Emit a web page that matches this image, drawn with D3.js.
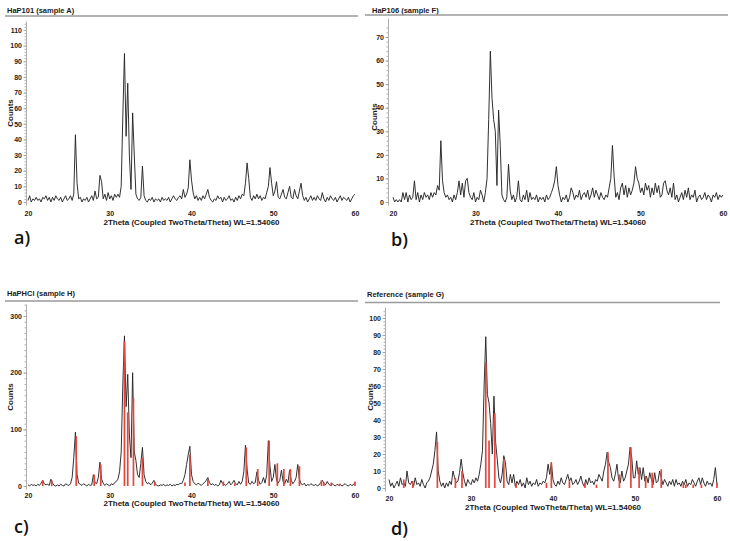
<!DOCTYPE html>
<html lang="en">
<head>
<meta charset="utf-8">
<title>XRD patterns of HaP samples</title>
<style>
  body { margin: 0; background: #fff; }
  svg { display: block; font-family: "Liberation Sans", Arial, sans-serif; }
  .title { font-size: 7.5px; font-weight: bold; fill: #1a1a1a; }
  .rule { stroke: #9a9a9a; stroke-width: 1.4; }
  .y-axis path, .y-axis line { stroke: #9a9a9a; stroke-width: 0.8; }
  .y-axis text, .x-axis text { font-size: 7px; font-weight: bold; fill: #222; font-family: "Liberation Sans", Arial, sans-serif; }
  .axis-title { font-size: 8px; font-weight: bold; fill: #1a1a1a; }
  .tag { font-family: "Open Sans", "Noto Sans", sans-serif; font-size: 18px; font-weight: 600; fill: #111; }
  .pattern { fill: none; stroke: #262626; stroke-width: 0.95; stroke-linejoin: round; }
  .stick { stroke: #e2463d; stroke-width: 1.7; }
</style>
</head>
<body>
<svg id="chart" width="730" height="541"></svg>
<script src="https://d3js.org/d3.v7.min.js"></script>
<script>
// 2theta grid of the measured patterns (degrees)
const twoThetaStart = 20;
const twoThetaStep = 0.2;
const xTicks = [20, 30, 40, 50, 60];

// measured counts, one value per 0.2 deg from 20.0 to 60.0
const countsA = [
  1,4,0,2,1,  3,1,2,0,3,  2,4,1,3,0,  3,1,4,2,1,  3,0,2,4,1,
  2,4,1,5,43, 12,2,3,0,2, 1,3,0,2,4,  1,7,2,3,17, 13,2,5,1,6,
  2,4,1,5,3,  5,3,10,55,95, 42,76,30,8,57, 30,5,2,1,3, 23,4,1,0,2,
  1,3,0,2,1,  2,0,3,1,2,  1,3,0,2,4,  2,1,3,4,2,  8,3,5,9,27,
  14,6,2,4,1, 3,1,4,2,5,  8,3,1,0,2,  1,4,2,3,0,  3,1,2,4,1,
  2,0,3,1,4,  2,5,4,12,25, 15,3,1,4,2, 5,2,4,1,3, 2,6,10,22,12,
  4,7,13,3,2, 5,8,3,2,6,  10,3,2,8,4, 2,7,12,4,1, 3,0,2,4,1,
  3,1,4,2,1,  6,2,0,3,1,  4,2,1,3,0,  2,4,1,3,2,  1,3,0,2,4,
  5
];
const countsF = [
  2,0,1,0,1,  0,4,1,4,0,  3,1,2,9,1,  4,0,3,1,4,  2,3,1,4,2,
  4,3,7,5,26, 9,4,2,3,1,  2,0,3,1,4,  9,3,8,2,9,  10,4,2,1,4,
  0,2,1,5,3,  0,4,10,35,64, 44,35,30,7,39, 24,3,1,0,2, 16,5,1,3,0,
  2,9,1,0,3,  1,5,0,4,1,  2,1,3,0,2,  1,2,0,3,1,  2,4,6,9,15,
  7,3,0,2,1,  3,0,2,6,4,  1,3,2,5,1,  3,4,2,5,1,  3,6,2,5,3,
  1,4,2,1,3,  2,6,10,24,11, 2,4,1,6,8, 3,7,2,6,3, 5,8,15,10,8,
  4,6,3,8,5,  7,2,6,3,8,  4,7,2,3,8,  9,5,3,6,2,  8,1,3,0,2,
  4,1,5,2,6,  1,3,2,5,0,  2,3,1,2,4,  1,3,2,0,3,  2,4,1,3,2,
  3
];
const countsH = [
  2,0,3,1,2,  0,3,1,5,10, 4,2,3,1,12, 5,1,0,2,0,  3,1,0,4,2,
  1,4,15,50,95, 20,5,3,1,4, 2,0,3,1,2, 20,6,4,15,42, 12,5,1,4,2,
  0,4,2,6,8,  12,25,60,180,265, 140,197,90,50,200, 60,45,20,15,40, 68,20,8,4,6,
  2,5,10,3,1, 0,2,1,3,0,  2,1,3,0,2,  1,3,2,5,4,  10,20,38,55,70,
  20,8,4,2,5, 3,1,4,6,10, 15,6,2,4,1, 3,0,2,10,4, 3,1,4,8,2,
  5,10,4,2,8, 3,8,25,72,30, 5,3,8,4,6, 25,10,3,6,15, 5,20,80,35,8,
  15,38,10,5,10, 28,8,4,12,6, 28,10,4,8,15, 38,12,4,2,5, 0,3,1,4,2,
  1,3,0,2,6,  10,5,2,8,3, 1,4,2,0,3,  1,3,0,2,4,  1,0,3,1,2,
  6
];
const countsG = [
  5,1,3,0,2,  4,1,6,2,3,  1,10,3,2,4, 1,6,2,3,1,  5,2,0,3,4,
  6,10,14,22,33, 10,4,1,3,0, 3,1,4,2,10, 6,3,4,9,17, 9,4,1,5,3,
  2,5,3,6,4,  8,14,22,60,89, 55,50,38,20,54, 27,17,6,3,8, 19,15,4,2,8,
  3,8,1,4,2,  5,1,3,0,6,  2,4,1,3,2,  5,1,3,2,4,  3,6,14,8,15,
  5,2,1,4,2,  6,3,2,5,8,  4,6,2,3,5,  2,4,7,3,1,  5,2,6,3,4,
  2,5,4,8,6,  4,10,14,21,15, 12,6,4,8,14, 5,3,10,4,6, 10,14,24,18,6,
  6,16,8,12,5, 12,4,7,3,9, 5,2,9,3,4, 10,6,2,5,3, 1,4,2,5,1,
  5,2,3,1,4,  2,5,1,3,2,  5,3,1,4,6,  2,6,3,1,4,  2,3,1,5,12,
  2
];

// hydroxyapatite reference lines (red sticks) shown in c) and d)
const refTwoTheta = [21.8, 22.9, 25.9, 28.1, 28.9, 31.8, 32.2, 32.9, 34.0, 35.5, 39.2, 39.8, 42.0, 43.9,
  45.3, 46.7, 48.1, 49.5, 50.5, 51.3, 52.1, 53.2, 55.9, 56.2, 57.1, 58.1, 60.0];
const refCountsH = [10, 10, 88, 20, 38, 255, 130, 155, 50, 8, 6, 55, 12, 8,
  5, 68, 30, 80, 40, 30, 30, 35, 10, 6, 6, 4, 8];
const refCountsG = [5, 4, 27, 6, 10, 74, 28, 44, 17, 3, 3, 15, 4, 3,
  2, 21, 8, 24, 12, 7, 9, 11, 3, 2, 2, 2, 3];

const yTicksA = [0, 10, 20, 30, 40, 50, 60, 70, 80, 90, 100, 110];
const yTicksF = [0, 10, 20, 30, 40, 50, 60, 70];
const yTicksH = [0, 100, 200, 300];
const yTicksG = [0, 10, 20, 30, 40, 50, 60, 70, 80, 90, 100];

const panels = [
  { tag: "a)", title: "HaP101 (sample A)", counts: countsA, yTicks: yTicksA, minor: 2,
    titleX: 7, titleY: 13, ruleY: 16, rule: [5, 358], axisX: 26, xr: [28, 355],
    y0: 202, yRef: 110, yRefPx: 30, axisTop: 21, tickY: 217, axisTitleY: 224.5,
    countsX: 10, countsY: 113, tagX: 14, tagY: 244 },
  { tag: "b)", title: "HaP106 (sample F)", counts: countsF, yTicks: yTicksF, minor: 2,
    titleX: 372, titleY: 13, ruleY: 15, rule: [365, 728], axisX: 388, xr: [393, 723],
    y0: 202, yRef: 70, yRefPx: 37, axisTop: 18, tickY: 217, axisTitleY: 224.5,
    countsX: 374, countsY: 117, tagX: 391, tagY: 246 },
  { tag: "c)", title: "HaPHCl (sample H)", counts: countsH, yTicks: yTicksH, minor: 10,
    refCounts: refCountsH,
    titleX: 7, titleY: 296, ruleY: 301, rule: [5, 358], axisX: 26, xr: [28, 355],
    y0: 486, yRef: 300, yRefPx: 316, axisTop: 304, tickY: 499, axisTitleY: 506,
    countsX: 10, countsY: 397, tagX: 14, tagY: 533 },
  { tag: "d)", title: "Reference (sample G)", counts: countsG, yTicks: yTicksG, minor: 2,
    refCounts: refCountsG,
    titleX: 367, titleY: 297, ruleY: 302.5, rule: [365, 720], axisX: 385, xr: [389, 717],
    y0: 488, yRef: 100, yRefPx: 318, axisTop: 307, tickY: 502, axisTitleY: 510,
    countsX: 370, countsY: 397, tagX: 391, tagY: 535 }
];

const svg = d3.select("#chart");

panels.forEach(p => {
  const g = svg.append("g");

  const x = d3.scaleLinear().domain([20, 60]).range(p.xr);
  const y = d3.scaleLinear().domain([0, p.yRef]).range([p.y0, p.yRefPx]);
  // stretch the y scale so the axis line reaches from the baseline to the top
  y.domain([y.invert(p.y0 + 3), y.invert(p.axisTop)]).range([p.y0 + 3, p.axisTop]);

  g.append("text").attr("class", "title").attr("x", p.titleX).attr("y", p.titleY).text(p.title);
  g.append("line").attr("class", "rule")
    .attr("x1", p.rule[0]).attr("x2", p.rule[1]).attr("y1", p.ruleY).attr("y2", p.ruleY);

  // minor ticks then major ticks
  const top = p.yTicks[p.yTicks.length - 1] + p.minor * 2;
  const minorTicks = d3.range(0, top + 0.001, p.minor).filter(v => y(v) >= p.axisTop);
  g.append("g").attr("class", "y-axis")
    .attr("transform", `translate(${p.axisX},0)`)
    .call(d3.axisLeft(y).tickValues(minorTicks).tickSize(1.5).tickFormat(""))
    .call(a => a.select(".domain").remove());
  g.append("g").attr("class", "y-axis")
    .attr("transform", `translate(${p.axisX},0)`)
    .call(d3.axisLeft(y).tickValues(p.yTicks).tickSize(2.5).tickSizeOuter(0).tickPadding(1.5));

  g.append("g").attr("class", "x-axis")
    .attr("transform", `translate(0,${p.tickY - 6})`)
    .call(d3.axisBottom(x).tickValues(xTicks).tickSize(0).tickPadding(0))
    .call(a => a.select(".domain").remove());

  const pts = p.counts.map((c, i) => [twoThetaStart + i * twoThetaStep, c]);
  g.append("path").attr("class", "pattern")
    .attr("d", d3.line().x(d => x(d[0])).y(d => y(d[1]))(pts));

  if (p.refCounts) {
    g.selectAll(".stick").data(refTwoTheta.map((t, i) => [t, p.refCounts[i]]))
      .join("line").attr("class", "stick")
      .attr("x1", d => x(d[0])).attr("x2", d => x(d[0]))
      .attr("y1", y(0)).attr("y2", d => y(d[1]));
  }

  g.append("text").attr("class", "axis-title")
    .attr("x", (p.xr[0] + p.xr[1]) / 2).attr("y", p.axisTitleY)
    .attr("text-anchor", "middle")
    .text("2Theta (Coupled TwoTheta/Theta) WL=1.54060");

  g.append("text").attr("class", "axis-title")
    .attr("transform", `translate(${p.countsX + 3},${p.countsY}) rotate(-90)`)
    .attr("text-anchor", "middle")
    .text("Counts");

  g.append("text").attr("class", "tag").attr("x", p.tagX).attr("y", p.tagY).text(p.tag);
});
</script>
</body>
</html>
